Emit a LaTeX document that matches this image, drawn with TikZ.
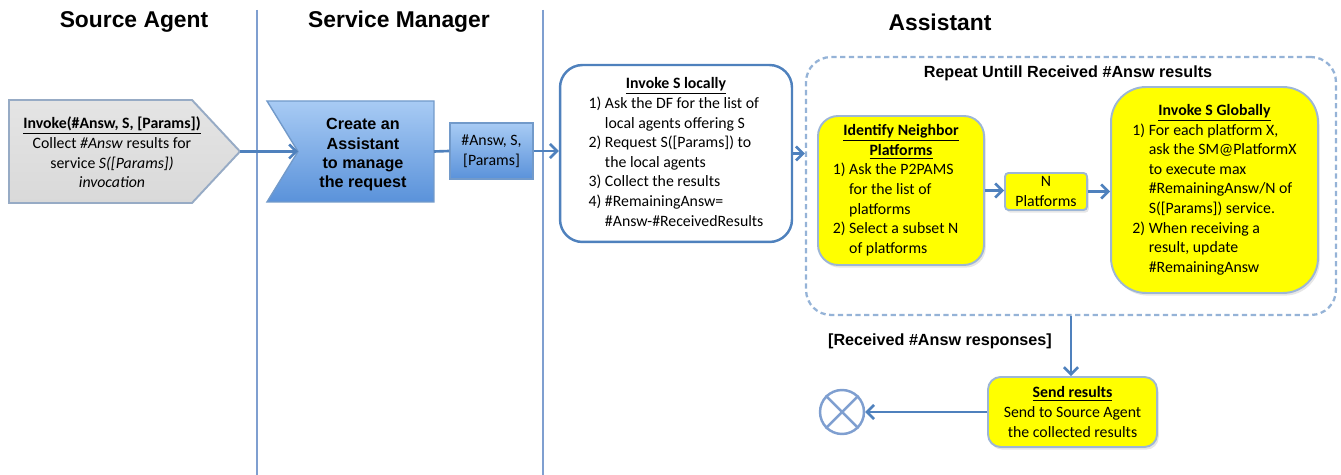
\documentclass[tikz,border=0pt]{standalone}
\usepackage{fontspec}
\setmainfont{Carlito}
\newfontfamily\arialfont{Liberation Sans}
\usetikzlibrary{arrows.meta,shadows}

\definecolor{laneblue}{HTML}{7F9FD0}
\definecolor{flowblue}{HTML}{4F81BD}
\definecolor{dashblue}{HTML}{95B3D7}
\definecolor{boxedge}{HTML}{9DB6D6}
\definecolor{hiyellow}{HTML}{FFFF00}
\definecolor{srcgray}{HTML}{D9D9D9}
\definecolor{btop}{HTML}{A8CBF4}
\definecolor{bbot}{HTML}{5A92DA}

\newcommand{\bodyfont}{\fontsize{9}{11.15}\selectfont}
\newcommand{\headfont}{\arialfont\bfseries\fontsize{13}{15}\selectfont}
\newcommand{\labfont}{\arialfont\bfseries\fontsize{9.2}{11}\selectfont}
\newcommand{\boxtitle}[1]{\underline{\textbf{#1}}}

\begin{document}
\begin{tikzpicture}[x=0.02cm, y=-0.02cm,
    lane/.style={draw=laneblue, line width=1.5pt},
    flow/.style={draw=flowblue, line width=1.5pt, -{Straight Barb[length=4pt,width=8pt]}},
    ybox/.style={draw=boxedge, line width=1.1pt, fill=hiyellow, font=\bodyfont, align=center,
        inner sep=1pt, drop shadow={opacity=0.2, shadow xshift=1pt, shadow yshift=-1.5pt}},
    bluebox/.style={draw=flowblue!80, line width=0.8pt, top color=btop, bottom color=bbot}]
    \useasboundingbox (0,0) rectangle (1341,475);

    %%%%% LANES %%%%%
    \node[font=\headfont] (hsrc) at (134,22) {Source Agent};
    \node[font=\headfont] (hsm) at (399,22) {Service Manager};
    \node[font=\headfont] (hass) at (940,22) {Assistant};
    \draw[lane] (257,10) -- (257,475);
    \draw[lane] (543,10) -- (543,475);

    %%%%% SOURCE AGENT %%%%%
    \draw[draw=boxedge!80!gray, line width=1.1pt, top color=srcgray!70, bottom color=srcgray]
        (9,100) -- (192,100) -- (240,151.5) -- (192,203) -- (9,203) -- cycle;
    \coordinate (srctip) at (240,151.5);
    \node[font=\bodyfont, align=center] (src) at (112,152.5)
        {\boxtitle{Invoke(\#Answ, S, [Params])}\\Collect \textit{\#Answ} results for\\
         service \textit{S([Params])}\\\textit{invocation}};

    %%%%% SERVICE MANAGER %%%%%
    \draw[bluebox] (267,101) -- (434,101) -- (434,202) -- (267,202) -- (298,151.5) -- cycle;
    \coordinate (crnotch) at (298,151.5);
    \coordinate (crright) at (434,151.5);
    \node[font=\labfont, align=center] (create) at (363,155)
        {Create an\\Assistant\\to manage\\the request};
    \node[bluebox, font=\bodyfont, align=center, inner sep=1pt,
        minimum width=1.66cm, minimum height=1.12cm] (prm) at (491.5,151) {\#Answ, S,\\{}[Params]};

    \draw[flow] (srctip) -- (crnotch);
    \draw[flowblue, line width=1.5pt] (crright) -- (prm.west);

    %%%%% ASSISTANT %%%%%
    \node[draw=flowblue, line width=1.4pt, fill=white, rounded corners=0.45cm, font=\bodyfont,
        minimum width=4.64cm, minimum height=3.54cm] (local) at (676,153.5)
        {\begin{tabular}{@{}l@{\ }l@{}}
            \multicolumn{2}{c}{\boxtitle{Invoke S locally}}\\
            1) & Ask the DF for the list of\\
               & local agents offering S\\
            2) & Request S([Params]) to\\
               & the local agents\\
            3) & Collect the results\\
            4) & \#RemainingAnsw=\\
               & \#Answ-\#ReceivedResults
        \end{tabular}};
    \draw[flow] (prm.east) -- (prm.east -| local.west);

    \node[draw=dashblue, line width=1.3pt, dash pattern=on 3pt off 2pt, rounded corners=0.5cm,
        minimum width=10.6cm, minimum height=5.16cm] (loop) at (1071,186) {};
    \node[font=\labfont] (looptitle) at (1068,73) {Repeat Untill Received \#Answ results};
    \draw[flow] (local.east) -- (local.east -| loop.west);

    \node[ybox, rounded corners=0.4cm, minimum width=3.32cm, minimum height=2.98cm] (ident) at (901,190.5)
        {\begin{tabular}{@{}l@{\ }l@{}}
            \multicolumn{2}{c}{\boxtitle{Identify Neighbor}}\\
            \multicolumn{2}{c}{\boxtitle{Platforms}}\\
            1) & Ask the P2PAMS\\
               & for the list of\\
               & platforms\\
            2) & Select a subset N\\
               & of platforms
        \end{tabular}};
    \node[ybox, rounded corners=2pt, minimum width=1.64cm, minimum height=0.74cm] (nplat) at (1046,191.5)
        {N\\Platforms};
    \node[ybox, rounded corners=0.7cm, minimum width=4.14cm, minimum height=4.12cm] (glob) at (1214.5,190)
        {\begin{tabular}{@{}l@{\ }l@{}}
            \multicolumn{2}{c}{\boxtitle{Invoke S Globally}}\\
            1) & For each platform X,\\
               & ask the SM@PlatformX\\
               & to execute max\\
               & \#RemainingAnsw/N of\\
               & S([Params]) service.\\
            2) & When receiving a\\
               & result, update\\
               & \#RemainingAnsw
        \end{tabular}};
    \draw[flow] (ident.east) -- (ident.east -| nplat.west);
    \draw[flow] (nplat.east) -- (nplat.east -| glob.west);

    \node[ybox, rounded corners=0.25cm, minimum width=3.38cm, minimum height=1.4cm] (send) at (1072.5,412)
        {\boxtitle{Send results}\\Send to Source Agent\\the collected results};
    \node[font=\labfont] (cond) at (940,341) {[Received \#Answ responses]};
    \node[draw=laneblue, circle, line width=1.4pt, fill=white, minimum size=0.88cm, inner sep=0pt] (stop) at (842,412) {};
    \draw[laneblue, line width=1.4pt] (stop.north west) -- (stop.south east)
        (stop.north east) -- (stop.south west);

    \draw[flow] (loop.south) -- (loop.south |- send.north);
    \draw[flow] (send.west) -- (stop.east);
\end{tikzpicture}
\end{document}
